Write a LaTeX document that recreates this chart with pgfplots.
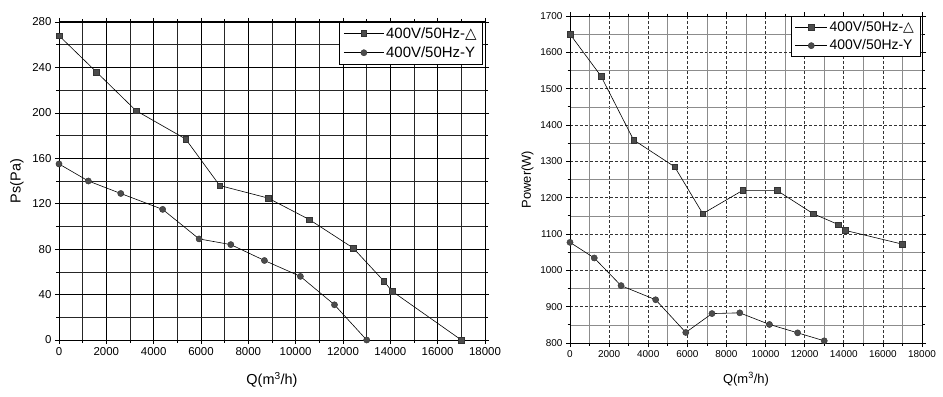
\documentclass[border=0pt]{standalone}
\usepackage{fontspec}
\setmainfont{Liberation Sans}
\newfontfamily\dejavu{DejaVu Sans}
\usepackage{pgfplots}
\usepackage{pgfplotstable}
\pgfplotsset{compat=1.18}

\pgfplotstableread{
Q Ps
0 268
1580 236
3250 202
5350 177
6790 136
8830 125
10580 106
12430 81
13720 52
14070 43
17000 0
}\psdelta
\pgfplotstableread{
Q Ps
0 155
1240 140
2610 129
4380 115
5920 89
7260 84
8680 70
10200 56
11640 31
13000 0
}\psy
\pgfplotstableread{
Q P
0 1650
1580 1535
3250 1359
5350 1285
6790 1156
8830 1220
10580 1220
12430 1156
13720 1126
14070 1110
17000 1072
}\pwdelta
\pgfplotstableread{
Q P
0 1077
1240 1034
2610 958
4380 919
5920 829
7260 881
8680 883
10200 851
11640 828
13000 806
}\pwy

\pgfplotsset{
  common/.style={
    anchor=south west,
    scale only axis,
    xmin=0, xmax=18000,
    xtick distance=2000,
    minor x tick num=1,
    minor y tick num=1,
    scaled x ticks=false,
    scaled y ticks=false,
    /pgf/number format/assume math mode=true,
    x tick label style={/pgf/number format/1000 sep={}},
    y tick label style={/pgf/number format/1000 sep={}},
    tick align=outside,
    major tick length=4bp,
    minor tick length=2.5bp,
    tick style={black, line width=0.7pt},
    axis line style={black, line width=1pt},
    grid=both,
    legend cell align=left,
    legend style={at={(0.995,1)}, anchor=north east, draw=black, line width=0.6pt,
      inner xsep=4pt, inner ysep=3pt, row sep=3pt},
  },
  sq/.style={black, line width=0.6pt, mark=square*, mark size=2.8bp,
    mark options={fill=black!70, draw=black!80, line width=0.4pt}},
  ci/.style={black, line width=0.6pt, mark=*, mark size=3.1bp,
    mark options={fill=black!70, draw=black!80, line width=0.4pt}},
}

\begin{document}
\begin{tikzpicture}
\path[use as bounding box] (0bp,0bp) rectangle (943bp,397bp);
\begin{axis}[common,
  at={(59bp,57bp)},
  width=426bp, height=318bp,
  ymin=0, ymax=280,
  ytick={0,40,...,280},
  ticklabel style={font=\fontsize{11.5}{13}\selectfont},
  major grid style={black, line width=0.7pt},
  minor grid style={black!85, line width=0.6pt},
  xlabel={Q(m\textsuperscript{3}/h)},
  ylabel={Ps(Pa)},
  label style={font=\fontsize{14.5}{16}\selectfont},
  xlabel style={yshift=-10bp},
  ylabel style={yshift=2bp},
  legend style={font=\fontsize{15}{17}\selectfont},
  legend image code/.code={\draw[mark repeat=2,mark phase=2,#1] plot coordinates {(0bp,0bp) (20bp,0bp) (40bp,0bp)};},
]
\addplot[sq] table[x=Q,y=Ps] {\psdelta};
\addlegendentry{400V/50Hz-{\dejavu △}}
\addplot[ci] table[x=Q,y=Ps] {\psy};
\addlegendentry{400V/50Hz-Y}
\end{axis}

\begin{axis}[common,
  at={(570bp,54bp)},
  width=352bp, height=327bp,
  ymin=800, ymax=1700,
  ytick={800,900,...,1700},
  ticklabel style={font=\fontsize{10}{12}\selectfont},
  major grid style={black!80, densely dashed, line width=0.6pt},
  minor grid style={black!45, line width=0.6pt},
  xlabel={Q(m\textsuperscript{3}/h)},
  ylabel={Power(W)},
  label style={font=\fontsize{13}{15}\selectfont},
  xlabel style={yshift=-8bp},
  legend style={font=\fontsize{14}{16}\selectfont},
  legend image code/.code={\draw[mark repeat=2,mark phase=2,#1] plot coordinates {(0bp,0bp) (16bp,0bp) (32bp,0bp)};},
]
\addplot[sq] table[x=Q,y=P] {\pwdelta};
\addlegendentry{400V/50Hz-{\dejavu △}}
\addplot[ci] table[x=Q,y=P] {\pwy};
\addlegendentry{400V/50Hz-Y}
\end{axis}
\end{tikzpicture}
\end{document}
